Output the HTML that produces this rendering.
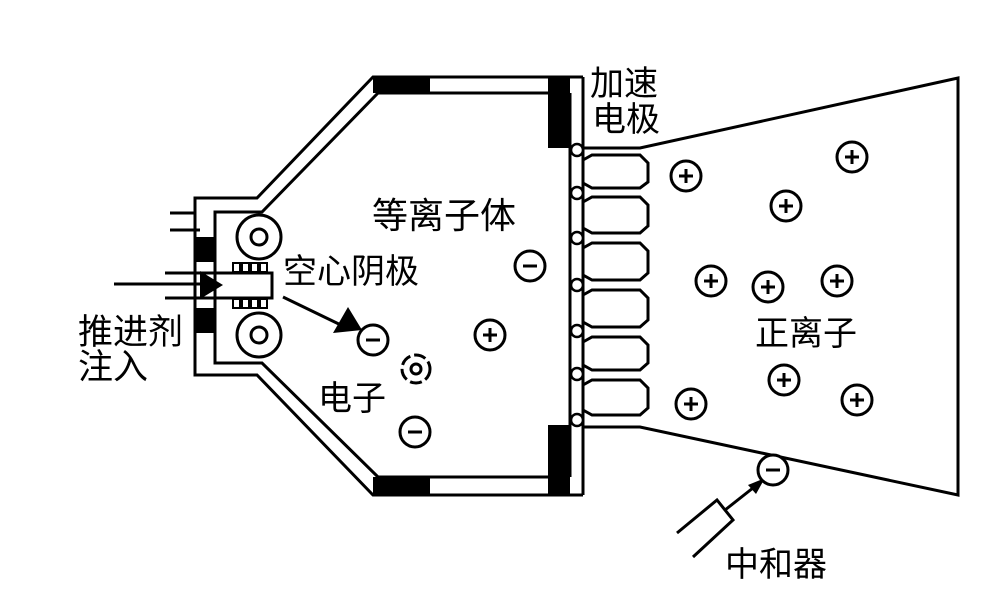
<!DOCTYPE html>
<html><head><meta charset="utf-8"><style>
html,body{margin:0;padding:0;background:#fff;}
svg{display:block;}
text{font-family:"Liberation Sans","Noto Sans CJK SC",sans-serif;font-size:34px;fill:#000;}
</style></head><body>
<svg width="996" height="593" viewBox="0 0 996 593" xmlns="http://www.w3.org/2000/svg">
<defs>
<g id="plus"><circle r="15" fill="#fff" stroke="#000" stroke-width="3"/><path d="M-7 0H7M0 -7V7" stroke="#000" stroke-width="3"/></g>
<g id="minus"><circle r="15" fill="#fff" stroke="#000" stroke-width="3"/><path d="M-7 0H7" stroke="#000" stroke-width="3"/></g>
</defs>
<g fill="none" stroke="#000" stroke-width="3">
<path d="M583 77 H373 L257 198 H195 V375 H257 L373 495 H583"/>
<path d="M570 93 H378 L262 212 H215 V363 H262 L378 477 H570"/>
<path d="M570 93 V477"/>
<path d="M583 77 V495"/>
<path d="M170 213 H195 M170 230 H200 M165 273 H215 M165 298 H215"/>
<path d="M200 273 H272 V298 H200"/>
<circle cx="259" cy="237" r="22"/><circle cx="259" cy="237" r="8"/>
<circle cx="259" cy="335" r="22"/><circle cx="259" cy="335" r="8"/>
<path d="M583 148 H640 L958 78 V495 L640 427 H583"/>
<path d="M583 148 V427"/>
<path d="M677 533 L717 500 L733 520 L693 557"/>
<path d="M725 510 L758 484"/>
<path d="M283 297 L345 327"/>
<path d="M114 284 H205"/>
</g>
<g fill="#000">
<rect x="373" y="77" width="57" height="16"/>
<rect x="373" y="477" width="57" height="18"/>
<rect x="548" y="77" width="22" height="71"/>
<rect x="548" y="425" width="22" height="70"/>
<rect x="195" y="237" width="20" height="25"/>
<rect x="195" y="308" width="20" height="25"/>
<polygon points="200,271 223,285 200,299"/>
<polygon points="333,333 362,330 348,307"/>
<polygon points="765,478 748,485 756,494"/>
</g>
<g fill="none" stroke="#000" stroke-width="2">
<rect x="233" y="263" width="7" height="9"/><rect x="242" y="263" width="7" height="9"/><rect x="251" y="263" width="7" height="9"/><rect x="260" y="263" width="7" height="9"/>
<rect x="233" y="299" width="7" height="9"/><rect x="242" y="299" width="7" height="9"/><rect x="251" y="299" width="7" height="9"/><rect x="260" y="299" width="7" height="9"/>
</g>
<g fill="#fff" stroke="#000" stroke-width="3">
<path d="M583 160 L592 155 H640 L648 163 V182 L640 188 H592 L583 183 Z"/>
<path d="M583 202 L592 197 H640 L648 205 V226 L640 233 H592 L583 228 Z"/>
<path d="M583 248 L592 243 H640 L648 251 V273 L640 280 H592 L583 275 Z"/>
<path d="M583 295 L592 290 H640 L648 298 V320 L640 327 H592 L583 322 Z"/>
<path d="M583 342 L592 337 H640 L648 345 V363 L640 370 H592 L583 365 Z"/>
<path d="M583 385 L592 380 H640 L648 388 V408 L640 415 H592 L583 410 Z"/>
</g>
<g fill="#fff" stroke="#000" stroke-width="2.5">
<circle cx="577" cy="150" r="6"/><circle cx="577" cy="193" r="6"/><circle cx="577" cy="238" r="6"/><circle cx="577" cy="285" r="6"/><circle cx="577" cy="331" r="6"/><circle cx="577" cy="374" r="6"/><circle cx="577" cy="420" r="6"/>
</g>
<use href="#minus" x="373" y="340"/>
<use href="#minus" x="415" y="432"/>
<use href="#minus" x="530" y="266"/>
<use href="#plus" x="490" y="335"/>
<circle cx="416" cy="369" r="14" fill="none" stroke="#000" stroke-width="3" stroke-dasharray="12 4"/>
<circle cx="416" cy="369" r="5" fill="none" stroke="#000" stroke-width="3"/>
<use href="#plus" x="686" y="176"/>
<use href="#plus" x="852" y="157"/>
<use href="#plus" x="786" y="206"/>
<use href="#plus" x="711" y="281"/>
<use href="#plus" x="768" y="287"/>
<use href="#plus" x="837" y="281"/>
<use href="#plus" x="784" y="380"/>
<use href="#plus" x="691" y="404"/>
<use href="#plus" x="857" y="400"/>
<use href="#minus" x="773" y="470"/>
<text x="590" y="95">加速</text>
<text x="592" y="131">电极</text>
<text x="372" y="228" style="font-size:36px">等离子体</text>
<text x="283" y="283">空心阴极</text>
<text x="78" y="344" style="font-size:35px">推进剂</text>
<text x="78" y="379" style="font-size:35px">注入</text>
<text x="318" y="410">电子</text>
<text x="755" y="345">正离子</text>
<text x="725" y="576">中和器</text>
</svg>
</body></html>
